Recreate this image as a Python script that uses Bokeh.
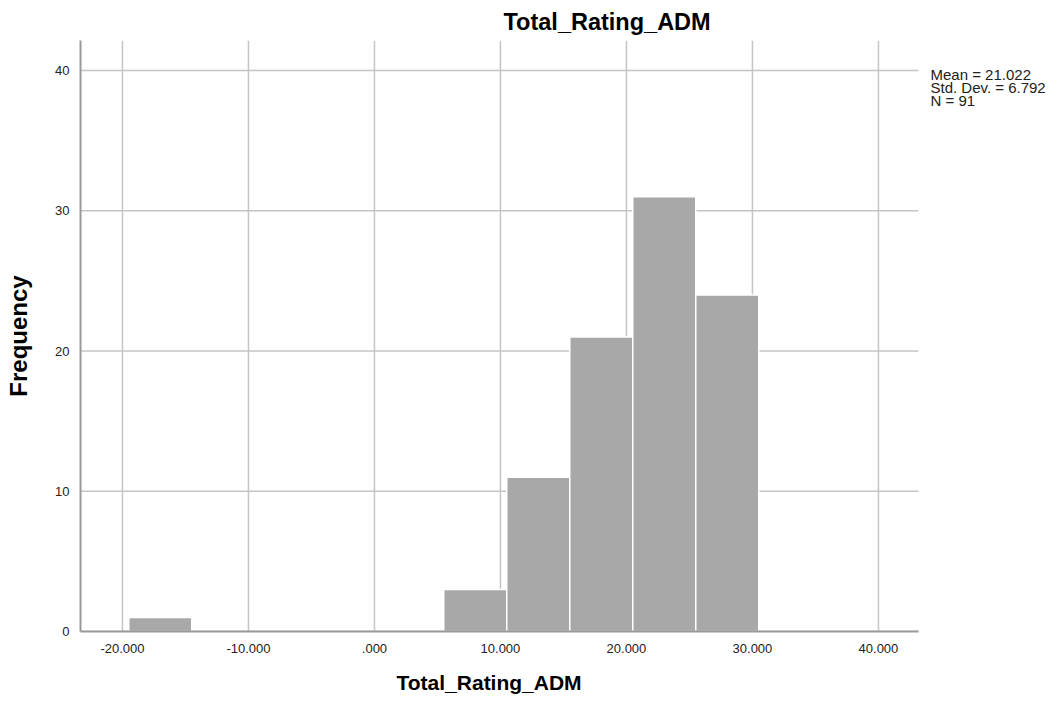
from bokeh.plotting import figure
from bokeh.models import ColumnDataSource, Range1d, FixedTicker, Label, Title
from bokeh.embed import file_html
from bokeh.resources import INLINE

# Histogram of Total_Rating_ADM (bin width 5)
bin_left = [-19.5, 5.5, 10.5, 15.5, 20.5, 25.5]
bin_right = [-14.5, 10.5, 15.5, 20.5, 25.5, 30.5]
frequency = [1, 3, 11, 21, 31, 24]

x_ticks = [-20, -10, 0, 10, 20, 30, 40]
x_tick_labels = ["-20.000", "-10.000", ".000", "10.000", "20.000", "30.000", "40.000"]
y_ticks = [0, 10, 20, 30, 40]

stats_lines = ["Mean = 21.022", "Std. Dev. = 6.792", "N = 91"]

FONT = "Liberation Sans"
GRID = "#c4c4c4"
AXIS = "#999999"

# extent of the x axis; the frame reaches further right to hold the stats
X_MIN, X_MAX = -23.33, 43.17
Y_MAX = 42.14

p = figure(width=1057, height=709, output_backend="svg", toolbar_location=None,
           x_range=Range1d(X_MIN, 54.21), y_range=Range1d(0, Y_MAX),
           min_border_left=80, min_border_right=0, min_border_top=40,
           min_border_bottom=78, outline_line_color=None)
p.xgrid.visible = False
p.ygrid.visible = False

# grid lines, limited to the axes' extent
p.segment(x0=x_ticks, x1=x_ticks, y0=[0] * len(x_ticks), y1=[Y_MAX] * len(x_ticks),
          line_color=GRID, line_width=1.5)
p.segment(x0=[X_MIN] * len(y_ticks), x1=[X_MAX] * len(y_ticks), y0=y_ticks, y1=y_ticks,
          line_color=GRID, line_width=1.5)

src = ColumnDataSource(dict(left=bin_left, right=bin_right, top=frequency,
                            bottom=[0] * len(frequency)))
p.quad(left="left", right="right", top="top", bottom="bottom", source=src,
       fill_color="#a8a8a8", line_color="white", line_width=1.5)

# axes
for ax in (p.xaxis[0], p.yaxis[0]):
    ax.axis_line_color = AXIS
    ax.axis_line_width = 2
    ax.major_tick_line_color = None
    ax.minor_tick_line_color = None
    ax.major_label_text_font = FONT
    ax.major_label_text_font_size = "13px"
    ax.major_label_text_color = "#222222"
    ax.axis_label_text_font = FONT
    ax.axis_label_text_font_style = "bold"
    ax.axis_label_text_color = "black"

p.xaxis.bounds = (X_MIN, X_MAX)
p.xaxis.ticker = FixedTicker(ticks=x_ticks)
p.xaxis.major_label_overrides = {t: s for t, s in zip(x_ticks, x_tick_labels)}
p.xaxis.major_label_standoff = 6

p.yaxis.ticker = FixedTicker(ticks=y_ticks)
p.yaxis.major_label_standoff = 5
p.yaxis.axis_label = "Frequency"
p.yaxis.axis_label_text_font_size = "24px"
p.yaxis.axis_label_standoff = 20

# x-axis caption, centred under the axis rather than under the wider frame
p.add_layout(Title(text="Total_Rating_ADM", align="left", offset=316,
                   text_font=FONT, text_font_style="bold", text_font_size="21px",
                   text_color="black", standoff=27), "below")

# chart title
p.title.text = "Total_Rating_ADM"
p.title.align = "left"
p.title.offset = 423
p.title.text_font = FONT
p.title.text_font_style = "bold"
p.title.text_font_size = "23.5px"
p.title.text_color = "black"
p.title.standoff = 11

# summary statistics (screen units run from the frame's bottom-left corner)
for i, line in enumerate(stats_lines):
    p.add_layout(Label(x=850, y=557 - i * 13, x_units="screen", y_units="screen",
                       text=line, text_font=FONT, text_font_size="15px",
                       text_baseline="middle", text_color="#222222"))

open("out.html", "w").write(file_html(p, INLINE))
